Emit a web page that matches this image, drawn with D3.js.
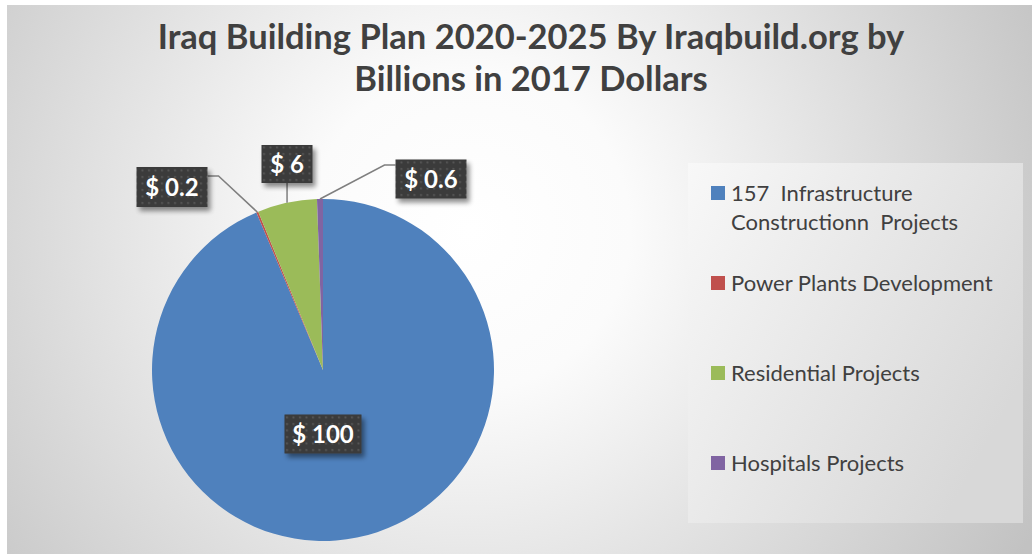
<!DOCTYPE html>
<html>
<head>
<meta charset="utf-8">
<script src="https://cdn.jsdelivr.net/npm/d3@7"></script>
<style>
  html, body { margin: 0; padding: 0; background: #ffffff; }
  svg { display: block; }
  text { white-space: pre; }
</style>
</head>
<body>
<svg id="chart" width="1032" height="555"></svg>
<script>
// Iraq building plan, billions of 2017 dollars
const categories = [
  "157  Infrastructure Constructionn  Projects",
  "Power Plants Development",
  "Residential Projects",
  "Hospitals Projects"
];
const values = [100, 0.2, 6, 0.6];
const valueLabels = ["$ 100", "$ 0.2", "$ 6", "$ 0.6"];
const colors = ["#4f81bd", "#c0504d", "#9bbb59", "#8064a2"];
const titleLines = [
  "Iraq Building Plan 2020-2025 By Iraqbuild.org by",
  "Billions in 2017 Dollars"
];
// legend text is wrapped to fit the legend panel
const legendLines = [
  ["157  Infrastructure", "Constructionn  Projects"],
  ["Power Plants Development"],
  ["Residential Projects"],
  ["Hospitals Projects"]
];

const W = 1032, H = 555;
const FONT = "Lato, 'Open Sans', sans-serif";
const svg = d3.select("#chart");
const defs = svg.append("defs");

// chart area background: soft radial fade to grey
const bg = defs.append("radialGradient")
  .attr("id", "bgGrad").attr("gradientUnits", "userSpaceOnUse")
  .attr("cx", 470).attr("cy", 230).attr("r", 640);
bg.append("stop").attr("offset", "0").attr("stop-color", "#ffffff");
bg.append("stop").attr("offset", "0.25").attr("stop-color", "#fbfbfb");
bg.append("stop").attr("offset", "1").attr("stop-color", "#c2c2c2");

const lg = defs.append("linearGradient")
  .attr("id", "legGrad").attr("x1", "0").attr("y1", "0").attr("x2", "1").attr("y2", "0.6");
lg.append("stop").attr("offset", "0").attr("stop-color", "#f8f8f8");
lg.append("stop").attr("offset", "1").attr("stop-color", "#d8d8d8");

// dotted fill for the data label boxes
const pat = defs.append("pattern")
  .attr("id", "dots").attr("patternUnits", "userSpaceOnUse")
  .attr("width", 6.5).attr("height", 6.5);
pat.append("rect").attr("width", 6.5).attr("height", 6.5).attr("fill", "#3a3a3a");
pat.append("rect").attr("x", 2).attr("y", 2).attr("width", 2).attr("height", 2).attr("fill", "#565656");

const shadow = defs.append("filter").attr("id", "shadow")
  .attr("x", "-20%").attr("y", "-20%").attr("width", "150%").attr("height", "160%");
shadow.append("feGaussianBlur").attr("in", "SourceAlpha").attr("stdDeviation", 2.5).attr("result", "b");
shadow.append("feOffset").attr("in", "b").attr("dx", 3).attr("dy", 4).attr("result", "o");
shadow.append("feComponentTransfer").attr("in", "o").attr("result", "s")
  .append("feFuncA").attr("type", "linear").attr("slope", 0.45);
const fm = shadow.append("feMerge");
fm.append("feMergeNode").attr("in", "s");
fm.append("feMergeNode").attr("in", "SourceGraphic");

svg.append("rect").attr("x", 7).attr("y", 5).attr("width", W - 7).attr("height", 549)
  .attr("fill", "url(#bgGrad)");

// title
const title = svg.append("text")
  .attr("text-anchor", "middle")
  .attr("font-family", FONT)
  .attr("font-weight", "bold").attr("font-size", 34.5).attr("fill", "#404040");
titleLines.forEach((t, i) => {
  title.append("tspan").attr("x", 531).attr("y", 49 + i * 42).text(t);
});

// pie
const cx = 323, cy = 370, R = 171;
const pie = d3.pie().sort(null).startAngle(0).endAngle(2 * Math.PI);
const arcs = pie(values);
const arc = d3.arc().innerRadius(0).outerRadius(R);
const g = svg.append("g").attr("transform", `translate(${cx},${cy})`);
g.selectAll("path").data(arcs).join("path")
  .attr("d", arc).attr("fill", (d, i) => colors[i]);

// data label boxes: centre positions relative to the pie centre
const labelBoxes = [
  { x: 0, y: 64, w: 77, h: 39 },
  { x: -151, y: -183, w: 71, h: 40 },
  { x: -36, y: -206, w: 51, h: 38 },
  { x: 108, y: -191, w: 71, h: 39 }
];
const outer = d3.arc().innerRadius(R).outerRadius(R);
// leader lines for outside labels
const leaders = [
  null,
  d => { const [ex, ey] = outer.centroid(d); const b = labelBoxes[1];
         const sx = b.x + b.w / 2, sy = b.y - 11;
         return [[sx, sy], [sx + 11, sy], [ex, ey]]; },
  d => { const [ex, ey] = outer.centroid(d); const b = labelBoxes[2];
         return [[ex, b.y + b.h / 2], [ex, ey]]; },
  d => { const [ex, ey] = outer.centroid(d); const b = labelBoxes[3];
         const sx = b.x - b.w / 2, sy = b.y - 14;
         return [[sx, sy], [sx - 11, sy], [ex, ey]]; }
];
const line = d3.line();
arcs.forEach((d, i) => {
  if (leaders[i]) {
    g.append("path").attr("d", line(leaders[i](d)))
      .attr("fill", "none").attr("stroke", "#7f7f7f").attr("stroke-width", 1.5);
  }
});
arcs.forEach((d, i) => {
  const b = labelBoxes[i];
  const lgp = g.append("g").attr("transform", `translate(${b.x},${b.y})`);
  lgp.append("rect").attr("x", -b.w / 2).attr("y", -b.h / 2)
    .attr("width", b.w).attr("height", b.h)
    .attr("fill", "url(#dots)").attr("filter", "url(#shadow)");
  lgp.append("text").attr("text-anchor", "middle").attr("dy", "0.36em")
    .attr("font-family", FONT).attr("font-weight", "bold")
    .attr("font-size", 24).attr("fill", "#ffffff").text(valueLabels[i]);
});

// legend panel
svg.append("rect").attr("x", 688).attr("y", 163).attr("width", 335).attr("height", 360)
  .attr("fill", "url(#legGrad)");
const legY = [193, 283, 373, 463];
const leg = svg.append("g");
categories.forEach((c, i) => {
  const gi = leg.append("g").attr("transform", `translate(711,${legY[i]})`);
  gi.append("rect").attr("x", 0).attr("y", -7).attr("width", 14).attr("height", 14)
    .attr("fill", colors[i]);
  const t = gi.append("text").attr("font-family", FONT)
    .attr("font-size", 22).attr("fill", "#404040");
  legendLines[i].forEach((ln, j) => {
    t.append("tspan").attr("x", 20).attr("y", 7.5 + j * 29).text(ln);
  });
});
</script>
</body>
</html>
